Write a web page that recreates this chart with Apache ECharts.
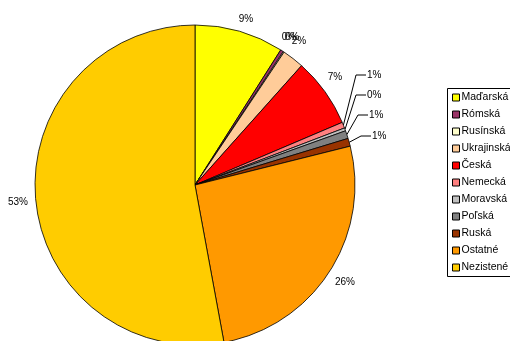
<!DOCTYPE html>
<html>
<head>
<meta charset="utf-8">
<style>
  html, body { margin: 0; padding: 0; background: #fff; }
  #chart { width: 510px; height: 341px; }
</style>
<script src="https://cdn.jsdelivr.net/npm/echarts@6/dist/echarts.min.js"></script>
</head>
<body>
<div id="chart"></div>
<script>
// shares in percent
var categories = ['Maďarská', 'Rómská', 'Rusínská', 'Ukrajinská', 'Česká', 'Nemecká',
  'Moravská', 'Poľská', 'Ruská', 'Ostatné', 'Nezistené'];
var shares = [9.0, 0.3, 0.1, 2.2, 7.0, 0.6, 0.3, 0.8, 0.8, 26.0, 52.9];
var colors = ['#FFFF00', '#993366', '#FFFFCC', '#FFCC99', '#FF0000', '#FF8080',
  '#C0C0C0', '#808080', '#993300', '#FF9900', '#FFCC00'];

// where the percent labels sit (Excel-style placement)
var labelPos = [[246, 19], [289, 37], [292, 37], [299, 41], [335, 77],
  [367, 75], [367, 95], [369, 115], [372, 136], [345, 282], [18, 202]];
// slices whose labels hang on a leader line
var leaderIdx = [5, 6, 7, 8];

var chart = echarts.init(document.getElementById('chart'));

var pieData = categories.map(function (name, i) {
  var item = { name: name, value: shares[i], itemStyle: { color: colors[i] } };
  if (leaderIdx.indexOf(i) >= 0) {
    item.labelLine = { show: true, lineStyle: { color: '#000', width: 1 } };
  }
  return item;
});

chart.setOption({
  animation: false,
  textStyle: { fontFamily: 'Liberation Sans, Arial, sans-serif' },
  // legend frame runs off the right edge like in the original
  graphic: [{
    type: 'rect',
    shape: { x: 447.5, y: 88.5, width: 90, height: 188 },
    style: { fill: 'none', stroke: '#000', lineWidth: 1 }
  }],
  legend: {
    orient: 'vertical',
    left: 447,
    top: 89,
    padding: [3, 0, 5, 5],
    itemWidth: 7,
    itemHeight: 7,
    itemGap: 6,
    icon: 'rect',
    itemStyle: { borderColor: '#000', borderWidth: 1 },
    textStyle: { fontSize: 10.5, color: '#000', padding: [0, 0, 0, -3] },
    data: categories
  },
  series: [{
    type: 'pie',
    center: [195, 185],
    radius: 160,
    startAngle: 90,
    clockwise: true,
    avoidLabelOverlap: false,
    itemStyle: { borderColor: '#000', borderWidth: 0.8 },
    label: {
      position: 'outside',
      fontSize: 10,
      color: '#000',
      formatter: function (p) { return Math.round(p.value) + '%'; }
    },
    labelLine: { show: false, length: 8, length2: 8 },
    labelLayout: function (p) {
      var pos = labelPos[p.dataIndex];
      if (leaderIdx.indexOf(p.dataIndex) >= 0) {
        var edge = p.labelLinePoints ? p.labelLinePoints[0] : [pos[0] - 20, pos[1] + 40];
        return {
          x: pos[0], y: pos[1], align: 'left', verticalAlign: 'middle',
          labelLinePoints: [edge, [pos[0] - 11, pos[1]], [pos[0] - 1, pos[1]]]
        };
      }
      return { x: pos[0], y: pos[1], align: 'center', verticalAlign: 'middle' };
    },
    data: pieData
  }]
});
</script>
</body>
</html>
